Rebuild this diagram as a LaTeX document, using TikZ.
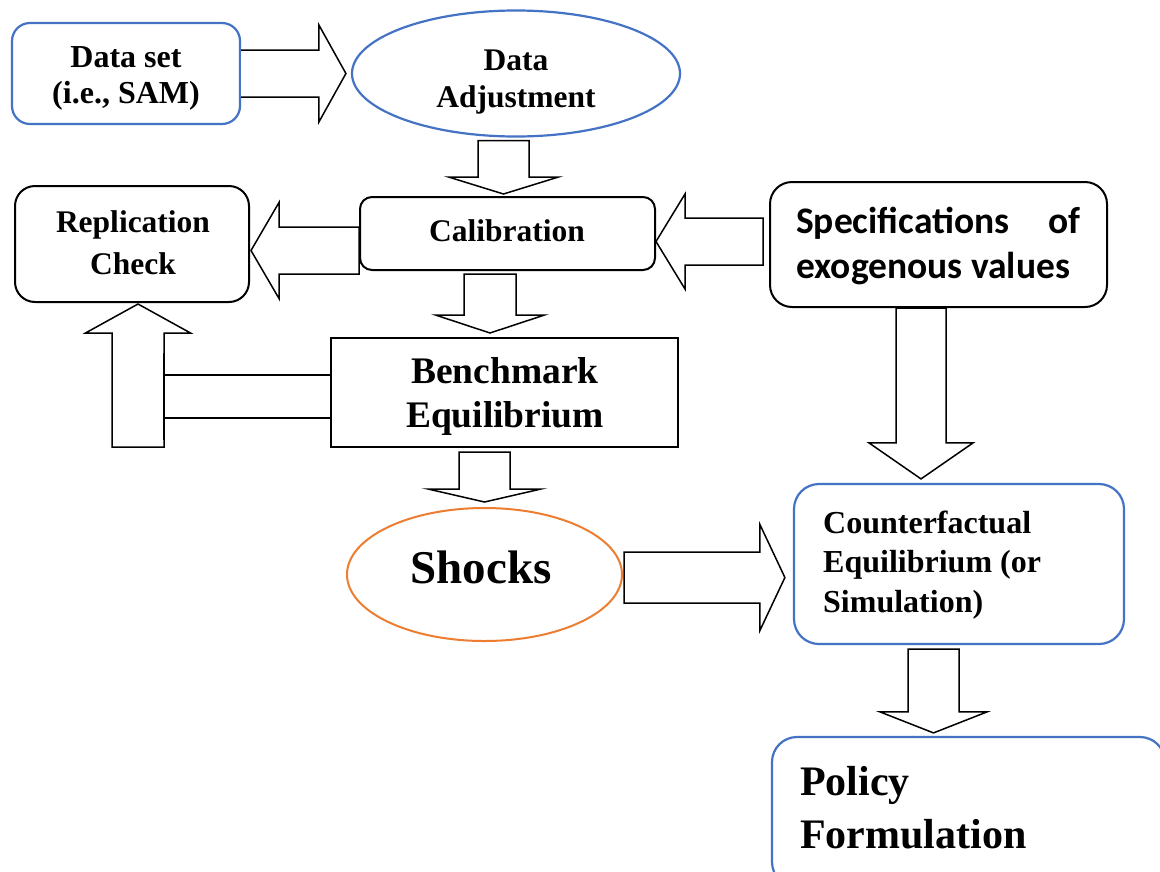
\documentclass[tikz,border=0pt]{standalone}
\usepackage{fontspec}
\setmainfont{Liberation Serif}
\newfontfamily\carl{Carlito}
\usetikzlibrary{shapes.geometric,calc}
\definecolor{myblue}{HTML}{4472C4}
\definecolor{myorange}{HTML}{ED7D31}
\newcommand\fsz[2]{\fontsize{#1}{#2}\selectfont\bfseries}
\newcommand\mlc[1]{\begin{tabular}[b]{@{}c@{}}#1\end{tabular}}
\newcommand\mll[1]{\begin{tabular}[b]{@{}l@{}}#1\end{tabular}}
% block arrow: [closing]{start}{end}{body half width}{head half width}{head length}
\newcommand\barrow[6][-- cycle]{%
  \path let \p1=(#2), \p2=(#3) in \pgfextra{%
    \pgfmathsetmacro\baAngTmp{atan2(\y2-\y1,\x2-\x1)}%
    \pgfmathsetmacro\baLenTmp{veclen(\x2-\x1,\y2-\y1)}%
    \xdef\baAng{\baAngTmp}\xdef\baLen{\baLenTmp}};
  \draw[blk, shift={(#2)}, rotate=\baAng]
    (0pt,-#4pt) -- (\baLen pt-#6pt,-#4pt) -- (\baLen pt-#6pt,-#5pt)
    -- (\baLen pt,0pt) -- (\baLen pt-#6pt,#5pt) -- (\baLen pt-#6pt,#4pt)
    -- (0pt,#4pt) #1;
}
\begin{document}
\begin{tikzpicture}[x=1pt,y=-1pt,
  blk/.style={draw=black, line width=1.5pt, fill=white, line join=miter},
  bbox/.style={rectangle, draw=myblue, line width=2.2pt, inner sep=0pt},
  kbox/.style={rectangle, draw=black, line width=2pt, inner sep=0pt},
  txt/.style={anchor=base, inner sep=0pt, text=black}]
\useasboundingbox (0,0) rectangle (1160,871);
\fill[white] (0,0) rectangle (1160,871);
\clip (0,0) rectangle (1160,871);

% shapes
\node[bbox, rounded corners=18pt, minimum width=228pt, minimum height=101pt] (ds) at (126,73.5) {};
\node[ellipse, draw=myblue, line width=2.2pt, minimum width=328pt, minimum height=126pt, inner sep=0pt] (adj) at (516,73.5) {};
\node[kbox, rounded corners=20pt, minimum width=234pt, minimum height=116pt] (rep) at (132,244) {};
\node[kbox, rounded corners=12pt, minimum width=295pt, minimum height=73pt] (cal) at (507.5,233.5) {};
\node[kbox, rounded corners=22pt, minimum width=337pt, minimum height=125pt] (spec) at (938.5,244.5) {};
\node[kbox, minimum width=347pt, minimum height=109pt] (bench) at (504.5,392.5) {};
\node[ellipse, draw=myorange, line width=2pt, minimum width=275pt, minimum height=133pt, inner sep=0pt] (shock) at (484.5,574.5) {};
\node[bbox, rounded corners=25pt, minimum width=330pt, minimum height=160pt] (cf) at (959,564) {};
\node[bbox, rounded corners=25pt, minimum width=393pt, minimum height=150pt] (pol) at (968.5,812) {};

% block arrows
\barrow[]{ds.east}{$(adj.west)+(-5,0)$}{23.5}{48.5}{27}
\barrow{$(adj.south)+(-12.5,3)$}{$(cal.north)+(-4,-2)$}{25.5}{55}{17}
\barrow{$(cal.west)+(0,17)$}{$(rep.east)+(1,6.5)$}{23.5}{48}{28}
\barrow{$(spec.west)+(-6,-3)$}{$(cal.east)+(0,8)$}{23.5}{47.5}{29}
\barrow{$(cal.south)+(-17.5,3)$}{$(bench.north)+(-14.5,-4)$}{26}{54.5}{18}
\barrow{$(bench.south)+(-20,4)$}{$(shock.north)+(0,-5)$}{25.5}{56.5}{13}
\barrow{$(shock.east)+(1,3)$}{$(cf.west)+(-8,13.5)$}{25.5}{53}{25}
\barrow{$(spec.south)+(-17.5,0)$}{$(cf.north)+(-38,-4)$}{25}{52}{36}
\barrow{$(cf.south)+(-25.5,4)$}{$(pol.north)+(-35,-3)$}{25.5}{53.5}{21}
\barrow{$(rep.south)+(6,144)$}{$(rep.south)+(6,1)$}{26}{52.5}{29}
% bar from benchmark to the up arrow
\draw[blk] ($(bench.west)+(0,-17.5)$) -- ++(-166,0) -- ++(0,43) -- ++(166,0);
\draw[line width=2.5pt] ($(bench.west)+(-166,-39.5)$) -- ++(0,87);

% texts
\node[txt, font=\fsz{32}{36}] (dsT) at (126,103) {\mlc{Data set\\(i.e., SAM)}};
\node[txt, font=\fsz{31.5}{37}] (adjT) at (516,107) {\mlc{Data\\Adjustment}};
\node[txt, font=\fsz{31.5}{42}] (repT) at (133,274) {\mlc{Replication\\Check}};
\node[txt, font=\fsz{31.5}{38}] (calT) at (507,241) {Calibration};
\node[txt, anchor=base west, font={\carl\fsz{37.5}{45}}] (specT) at (796,278) {\mll{\makebox[284pt][l]{Specifications\hfill of}\\exogenous values}};
\node[txt, font=\fsz{37.5}{44}] (benchT) at (505,427) {\mlc{Benchmark\\Equilibrium}};
\node[txt, font=\fsz{47}{50}] (shockT) at (481,583) {Shocks};
\node[txt, anchor=base west, font=\fsz{32}{39.5}] (cfT) at (823,612) {\mll{Counterfactual\\Equilibrium (or\\Simulation)}};
\node[txt, anchor=base west, font=\fsz{42}{53}] (polT) at (800,848) {\mll{Policy\\Formulation}};
\end{tikzpicture}
\end{document}
